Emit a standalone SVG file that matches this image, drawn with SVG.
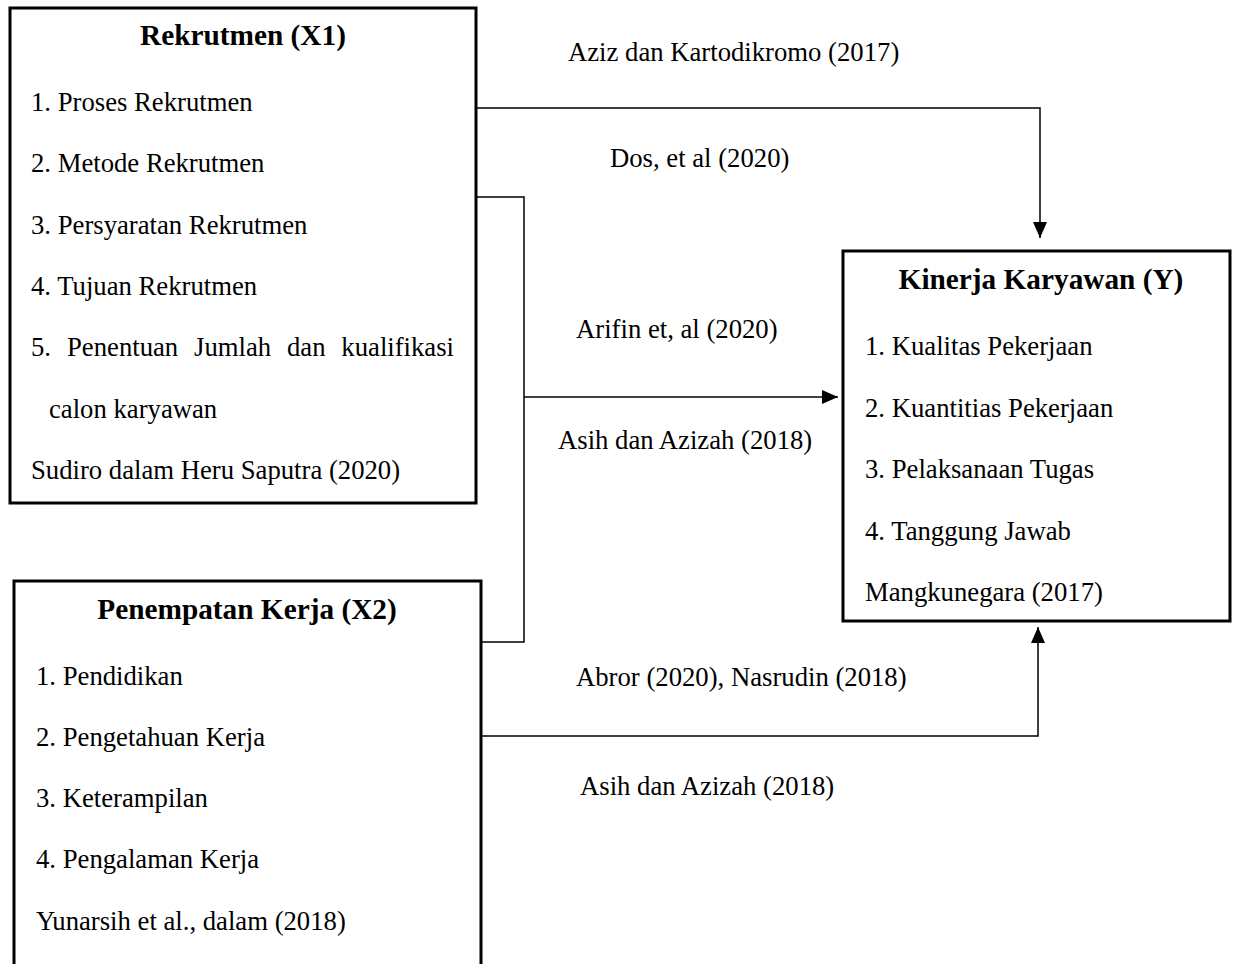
<svg xmlns="http://www.w3.org/2000/svg" width="1238" height="964" viewBox="0 0 1238 964">
<style>
.box{fill:#fff;stroke:#000;stroke-width:3}
.t{font-family:"Liberation Serif","Times New Roman",serif;font-size:26.7px;fill:#000}
.h{font-family:"Liberation Serif","Times New Roman",serif;font-size:29.3px;font-weight:bold;fill:#000;text-anchor:middle}
.c{fill:none;stroke:#000;stroke-width:1.5}
</style>
<defs>
<marker id="arr" markerUnits="userSpaceOnUse" markerWidth="16" markerHeight="14" refX="16" refY="7" orient="auto">
<path d="M0,0 L16,7 L0,14 Z" fill="#000"/>
</marker>
</defs>
<rect width="1238" height="964" fill="#fff"/>
<g id="connectors">
<polyline class="c" points="476,108 1040,108 1040,238" marker-end="url(#arr)"/>
<polyline class="c" points="472,197 524,197 524,642 481,642"/>
<line class="c" x1="524" y1="397" x2="838" y2="397" marker-end="url(#arr)"/>
<polyline class="c" points="481,736 1038,736 1038,627" marker-end="url(#arr)"/>
</g>
<g id="labels">
<text class="t" x="568" y="61">Aziz dan Kartodikromo (2017)</text>
<text class="t" x="610" y="167">Dos, et al (2020)</text>
<text class="t" x="576" y="338">Arifin et, al (2020)</text>
<text class="t" x="558" y="449">Asih dan Azizah (2018)</text>
<text class="t" x="576" y="686">Abror (2020), Nasrudin (2018)</text>
<text class="t" x="580" y="795">Asih dan Azizah (2018)</text>
</g>
<g id="x1">
<rect class="box" x="10" y="8" width="466" height="495"/>
<text class="h" x="243" y="45">Rekrutmen (X1)</text>
<text class="t" x="31" y="111">1. Proses Rekrutmen</text>
<text class="t" x="31" y="172">2. Metode Rekrutmen</text>
<text class="t" x="31" y="234">3. Persyaratan Rekrutmen</text>
<text class="t" x="31" y="295">4. Tujuan Rekrutmen</text>
<text class="t" y="356"><tspan x="31">5.</tspan><tspan x="67">Penentuan</tspan><tspan x="194">Jumlah</tspan><tspan x="287">dan</tspan><tspan x="454" text-anchor="end">kualifikasi</tspan></text>
<text class="t" x="49" y="418">calon karyawan</text>
<text class="t" x="31" y="479">Sudiro dalam Heru Saputra (2020)</text>
</g>
<g id="x2">
<rect class="box" x="14" y="581" width="467" height="400"/>
<text class="h" x="247" y="619">Penempatan Kerja (X2)</text>
<text class="t" x="36" y="685">1. Pendidikan</text>
<text class="t" x="36" y="746">2. Pengetahuan Kerja</text>
<text class="t" x="36" y="807">3. Keterampilan</text>
<text class="t" x="36" y="868">4. Pengalaman Kerja</text>
<text class="t" x="36" y="930">Yunarsih et al., dalam (2018)</text>
</g>
<g id="y">
<rect class="box" x="843" y="251" width="387" height="370"/>
<text class="h" x="1041" y="289">Kinerja Karyawan (Y)</text>
<text class="t" x="865" y="355">1. Kualitas Pekerjaan</text>
<text class="t" x="865" y="417">2. Kuantitias Pekerjaan</text>
<text class="t" x="865" y="478">3. Pelaksanaan Tugas</text>
<text class="t" x="865" y="540">4. Tanggung Jawab</text>
<text class="t" x="865" y="601">Mangkunegara (2017)</text>
</g>
</svg>
